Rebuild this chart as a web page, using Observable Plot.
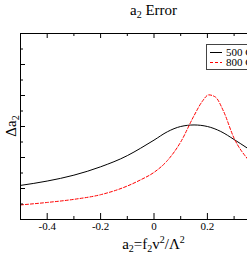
<!DOCTYPE html>
<html><head><meta charset="utf-8">
<script src="https://cdn.jsdelivr.net/npm/d3@7"></script>
<script src="https://cdn.jsdelivr.net/npm/@observablehq/plot@0.6"></script>
<style>
html,body{margin:0;padding:0;overflow:hidden;background:#fff;}
#chart{position:relative;width:247px;height:255px;overflow:hidden;}
#chart svg{max-width:none;}
</style></head><body><div id="chart"></div>
<script>
// Data
const x500 = [-0.5, -0.4, -0.3, -0.2, -0.1, -0.05, 0, 0.05, 0.1, 0.15, 0.2, 0.25, 0.3, 0.35];
const y500 = [1.10, 1.24, 1.43, 1.70, 2.06, 2.30, 2.56, 2.83, 3.00, 3.05, 3.00, 2.84, 2.58, 2.30];
const x800 = [-0.5, -0.4, -0.3, -0.2, -0.1, -0.05, 0, 0.05, 0.1, 0.15, 0.18, 0.205, 0.23, 0.26, 0.3, 0.35];
const y800 = [0.47, 0.55, 0.65, 0.80, 1.08, 1.28, 1.52, 1.90, 2.50, 3.35, 3.80, 4.02, 3.95, 3.50, 2.62, 1.96];
const seriesNames = ["500 GeV", "800 GeV"];
const majorX = [-0.4, -0.2, 0, 0.2, 0.4];
const minorX = [-0.3, -0.1, 0.1, 0.3];
const labelX = [-0.4, -0.2, 0, 0.2];
const xTickLabels = ["-0.4", "-0.2", "0", "0.2"];
const majorY = [1, 2, 3, 4, 5];
const minorY = [0.5, 1.5, 2.5, 3.5, 4.5, 5.5];

const W = 290, H = 255, mL = 20, mR = 3, mT = 33, mB = 36;
const pw = W - mL - mR, ph = H - mT - mB;
const serif = "'Liberation Serif', 'Times New Roman', serif";

const rows500 = x500.map((x, i) => ({x, y: y500[i]}));
const rows800 = x800.map((x, i) => ({x, y: y800[i]}));

const plot = Plot.plot({
  width: W, height: H,
  marginLeft: mL, marginRight: mR, marginTop: mT, marginBottom: mB,
  style: {fontFamily: serif, fontSize: "11px", background: "white", maxWidth: "none", overflow: "visible"},
  x: {domain: [-0.5, 0.5]},
  y: {domain: [0, 6]},
  marks: [
    Plot.line(rows500, {x: "x", y: "y", stroke: "#000", strokeWidth: 1, curve: "monotone-x"}),
    Plot.line(rows800, {x: "x", y: "y", stroke: "#ff0000", strokeWidth: 1, strokeDasharray: "3,2", curve: "monotone-x"}),
    // ticks pointing inward
    Plot.tickX(majorX, {x: d => d, insetTop: ph - 6, stroke: "#000"}),
    Plot.tickX(minorX, {x: d => d, insetTop: ph - 3, stroke: "#000"}),
    Plot.tickX(majorX, {x: d => d, insetBottom: ph - 5, stroke: "#000"}),
    Plot.tickX(minorX, {x: d => d, insetBottom: ph - 3, stroke: "#000"}),
    Plot.tickY(majorY, {y: d => d, insetRight: pw - 5, stroke: "#000"}),
    Plot.tickY(minorY, {y: d => d, insetRight: pw - 3, stroke: "#000"}),
    Plot.axisX({ticks: labelX, tickSize: 0, tickPadding: 3, tickFormat: (d, i) => xTickLabels[i], label: null, fill: "#000"}),
    Plot.axisY({ticks: [], label: null}),
    Plot.frame({stroke: "#000", strokeWidth: 1})
  ]
});
document.getElementById("chart").appendChild(plot);

const svg = d3.select(plot);
const cx = mL + pw / 2;
// title
const t = svg.append("text").attr("x", cx).attr("y", 15).attr("text-anchor", "middle")
  .attr("font-family", serif).attr("font-size", 15).attr("fill", "#000");
t.append("tspan").text("a");
t.append("tspan").attr("dy", 3).attr("font-size", 10).text("2");
t.append("tspan").attr("dy", -3).text(" Error");
// x label
const xl = svg.append("text").attr("x", cx).attr("y", 249).attr("text-anchor", "middle")
  .attr("font-family", serif).attr("font-size", 15).attr("fill", "#000");
xl.append("tspan").text("a");
xl.append("tspan").attr("dy", 3).attr("font-size", 10).text("2");
xl.append("tspan").attr("dy", -3).text("=f");
xl.append("tspan").attr("dy", 3).attr("font-size", 10).text("2");
xl.append("tspan").attr("dy", -3).text("v");
xl.append("tspan").attr("dy", -6).attr("font-size", 10).text("2");
xl.append("tspan").attr("dy", 6).text("/Λ");
xl.append("tspan").attr("dy", -6).attr("font-size", 10).text("2");
// y label
const yl = svg.append("text").attr("transform", `translate(16,${mT + ph / 2}) rotate(-90)`)
  .attr("text-anchor", "middle").attr("font-family", serif).attr("font-size", 15).attr("fill", "#000");
yl.append("tspan").text("Δa");
yl.append("tspan").attr("dy", 3).attr("font-size", 10).text("2");
// legend
const lg = svg.append("g");
lg.append("rect").attr("x", 206.5).attr("y", 44.5).attr("width", 78).attr("height", 25)
  .attr("fill", "white").attr("stroke", "#444").attr("stroke-width", 1);
const legendStyles = [{stroke: "#000", dash: null}, {stroke: "#ff0000", dash: "3,2"}];
seriesNames.forEach((name, i) => {
  const yy = 52.5 + i * 10;
  lg.append("line").attr("x1", 210).attr("x2", 222).attr("y1", yy).attr("y2", yy)
    .attr("stroke", legendStyles[i].stroke).attr("stroke-dasharray", legendStyles[i].dash);
  lg.append("text").attr("x", 226).attr("y", yy + 3.5).attr("text-anchor", "start")
    .attr("font-family", serif).attr("font-size", 11).attr("fill", "#000").text(name);
});
</script>
</body></html>
